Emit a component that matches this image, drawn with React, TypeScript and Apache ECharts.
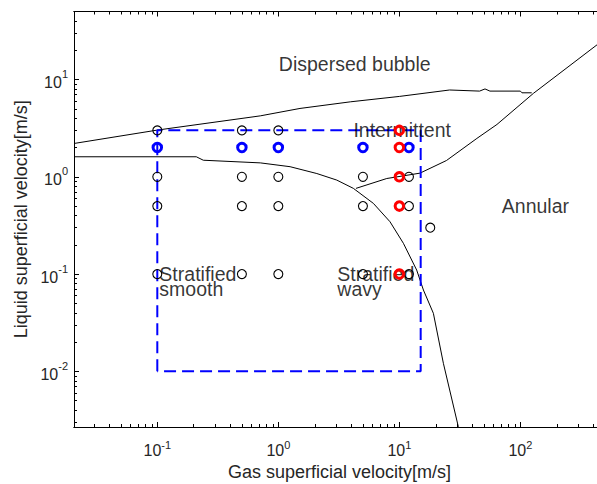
import React, { useEffect, useRef } from 'react';
import * as echarts from 'echarts';

const X_MIN = 0.0205;
const X_MAX = 500;
const Y_MIN = 0.00268;
const Y_MAX = 50;

const xMajorTicks = [0.1, 1, 10, 100];
const xMinorTicks = [
  0.03, 0.04, 0.05, 0.06, 0.07, 0.08, 0.09,
  0.2, 0.3, 0.4, 0.5, 0.6, 0.7, 0.8, 0.9,
  2, 3, 4, 5, 6, 7, 8, 9,
  20, 30, 40, 50, 60, 70, 80, 90,
  200, 300, 400,
];
const yMajorTicks = [0.01, 0.1, 1, 10];
const yMinorTicks = [
  0.003, 0.004, 0.005, 0.006, 0.007, 0.008, 0.009,
  0.02, 0.03, 0.04, 0.05, 0.06, 0.07, 0.08, 0.09,
  0.2, 0.3, 0.4, 0.5, 0.6, 0.7, 0.8, 0.9,
  2, 3, 4, 5, 6, 7, 8, 9,
  20, 30, 40,
];

// Flow-pattern boundaries [gas velocity, liquid velocity]
const bubbleBoundary = [
  [0.0205, 2.2], [0.1, 3.02], [0.71, 4.23], [1.51, 5.04], [3.96, 5.9],
  [10, 6.7], [26, 7.8], [46, 7.6], [51, 8.0], [56, 7.6], [100, 7.6],
  [103, 7.3], [124, 7.3],
];
const stratifiedBoundary = [
  [0.0205, 1.606], [0.21, 1.606], [0.24, 1.48], [0.71, 1.39], [1.25, 1.27],
  [2.08, 1.08], [3.04, 0.925], [4.17, 0.76], [6.1, 0.533], [8.37, 0.345],
  [10.8, 0.207], [13.9, 0.11], [15.8, 0.0686], [19.1, 0.0395], [23.1, 0.0121],
  [30.7, 0.0027], [32.5, 0.002],
];
const annularBoundary = [
  [4.38, 0.76], [7.87, 0.96], [14.8, 1.09], [24.5, 1.47], [43.7, 2.48],
  [64, 3.45], [128, 7.2], [431, 22.8], [500, 26.4],
];
const testRegion = [[0.1, 0.01], [0.1, 3], [15, 3], [15, 0.01], [0.1, 0.01]];

const blackPoints = [
  [0.1, 3], [0.1, 1], [0.1, 0.5], [0.1, 0.1],
  [0.5, 3], [0.5, 1], [0.5, 0.5], [0.5, 0.1],
  [1, 3], [1, 1], [1, 0.5], [1, 0.1],
  [5, 1], [5, 0.5], [5, 0.1],
  [12, 1], [12, 0.5], [12, 0.1],
  [18, 0.3],
];
const bluePoints = [[0.1, 2], [0.5, 2], [1, 2], [5, 2], [12, 2]];
const redPoints = [[10, 3], [10, 2], [10, 1], [10, 0.5], [10, 0.1]];

const regionLabels = [
  { text: 'Dispersed bubble', x: 1.01, y: 14.6 },
  { text: 'Intermittent', x: 4.17, y: 3.02 },
  { text: 'Annular', x: 70.2, y: 0.497 },
  { text: 'Stratified\nsmooth', x: 0.104, y: 0.0834 },
  { text: 'Stratified\nwavy', x: 3.07, y: 0.0834 },
];

const FONT = '"Liberation Sans", Arial, Helvetica, sans-serif';
const LABEL_COLOR = '#262626';

const powFormatter = (v: number) => {
  const e = Math.round(Math.log10(v));
  return `{b|10}{s|${e}}`;
};

const richX = {
  b: { fontSize: 16, lineHeight: 22, color: LABEL_COLOR, fontFamily: FONT },
  s: { fontSize: 11, verticalAlign: 'top', color: LABEL_COLOR, fontFamily: FONT },
};
const richY = {
  b: { fontSize: 16, lineHeight: 22, padding: [6, 0, 0, 0], color: LABEL_COLOR, fontFamily: FONT },
  s: { fontSize: 11, verticalAlign: 'top', color: LABEL_COLOR, fontFamily: FONT },
};

function xAxis(position: string, major: boolean, labels: boolean) {
  return {
    type: 'log',
    logBase: 10,
    min: X_MIN,
    max: X_MAX,
    position,
    gridIndex: 0,
    axisLine: { show: true, onZero: false, lineStyle: { color: '#000', width: 1 } },
    axisTick: {
      show: true,
      inside: true,
      length: major ? 5 : 3,
      customValues: major ? xMajorTicks : xMinorTicks,
      lineStyle: { color: '#000', width: 1 },
    },
    axisLabel: labels
      ? { show: true, customValues: xMajorTicks, formatter: powFormatter, rich: richX, margin: 12 }
      : { show: false },
    splitLine: { show: false },
    minorTick: { show: false },
    name: labels ? 'Gas superficial velocity[m/s]' : '',
    nameLocation: 'middle',
    nameGap: 36,
    nameTextStyle: { fontSize: 18, color: LABEL_COLOR, fontFamily: FONT },
  };
}

function yAxis(position: string, major: boolean, labels: boolean) {
  return {
    type: 'log',
    logBase: 10,
    min: Y_MIN,
    max: Y_MAX,
    position,
    gridIndex: 0,
    axisLine: { show: true, onZero: false, lineStyle: { color: '#000', width: 1 } },
    axisTick: {
      show: true,
      inside: true,
      length: major ? 5 : 3,
      customValues: major ? yMajorTicks : yMinorTicks,
      lineStyle: { color: '#000', width: 1 },
    },
    axisLabel: labels
      ? { show: true, customValues: yMajorTicks, formatter: powFormatter, rich: richY, margin: 6 }
      : { show: false },
    splitLine: { show: false },
    minorTick: { show: false },
    name: labels ? 'Liquid superficial velocity[m/s]' : '',
    nameLocation: 'middle',
    nameGap: 42,
    nameTextStyle: { fontSize: 18, color: LABEL_COLOR, fontFamily: FONT },
  };
}

export default function App() {
  const ref = useRef<HTMLDivElement>(null);
  useEffect(() => {
    if (!ref.current) return;
    const chart = echarts.init(ref.current, undefined, { renderer: 'svg' });
    const lineSeries = (data: number[][]) => ({
      type: 'line',
      data,
      showSymbol: false,
      symbol: 'none',
      smooth: false,
      silent: true,
      lineStyle: { color: '#000', width: 1 },
      z: 2,
    });
    const scatter = (data: number[][], color: string, size: number, width: number, z: number) => ({
      type: 'scatter',
      data,
      symbol: 'circle',
      symbolSize: size,
      silent: true,
      itemStyle: { color: 'rgba(0,0,0,0)', borderColor: color, borderWidth: width, opacity: 1 },
      z,
    });
    chart.setOption({
      animation: false,
      backgroundColor: '#fff',
      grid: { left: 74, top: 11.5, right: 0, bottom: 57, containLabel: false, outerBoundsMode: 'none' },
      xAxis: [
        xAxis('bottom', true, true),
        xAxis('bottom', false, false),
        xAxis('top', true, false),
        xAxis('top', false, false),
      ],
      yAxis: [yAxis('left', true, true), yAxis('left', false, false)],
      series: [
        lineSeries(bubbleBoundary),
        lineSeries(stratifiedBoundary),
        lineSeries(annularBoundary),
        {
          type: 'line',
          data: testRegion,
          showSymbol: false,
          symbol: 'none',
          silent: true,
          lineStyle: { color: '#0000ff', width: 2, type: [12, 6] },
          z: 3,
        },
        scatter(blackPoints, '#000', 9, 1.1, 4),
        {
          type: 'scatter',
          data: regionLabels.map((l) => ({ value: [l.x, l.y], name: l.text })),
          symbolSize: 0,
          silent: true,
          itemStyle: { color: 'rgba(0,0,0,0)' },
          label: {
            show: true,
            position: 'inside',
            align: 'left',
            verticalAlign: 'middle',
            formatter: '{b}',
            fontSize: 19.5,
            lineHeight: 15,
            color: '#000',
            fontFamily: FONT,
          },
          z: 5,
        },
        scatter(bluePoints, '#0000ff', 8.5, 3, 6),
        scatter(redPoints, '#ff0000', 8.5, 3, 7),
      ],
    });
    return () => chart.dispose();
  }, []);
  return (
    <div style={{ position: 'fixed', left: 0, top: 0, width: 597, height: 484, overflow: 'hidden', background: '#fff' }}>
      <div ref={ref} style={{ position: 'absolute', left: 0, top: 0, width: 605, height: 484 }} />
    </div>
  );
}
